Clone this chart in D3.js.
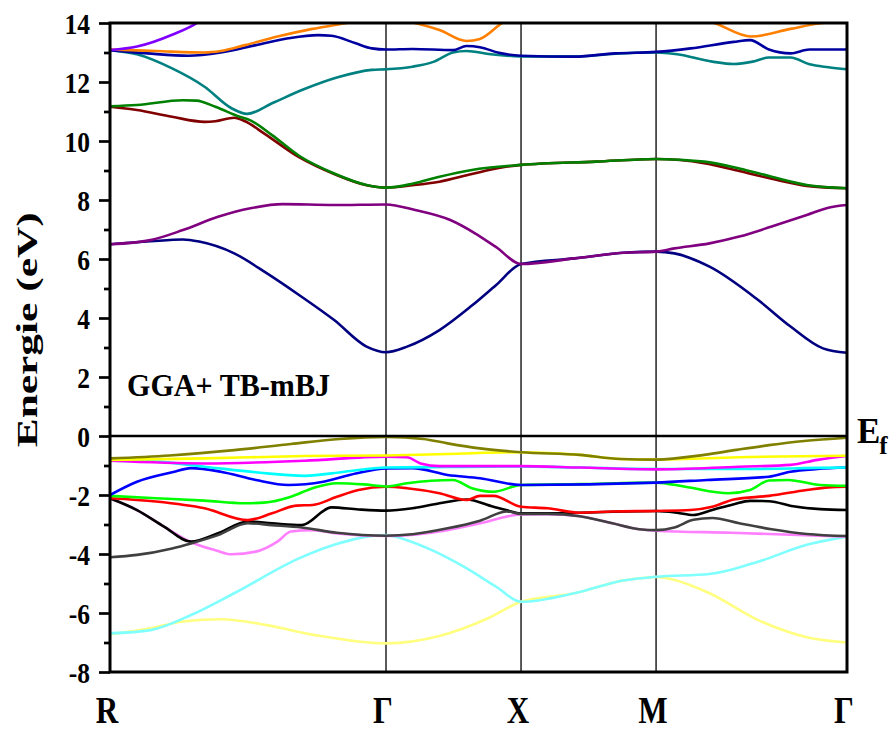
<!DOCTYPE html>
<html>
<head>
<meta charset="utf-8">
<script src="https://cdn.jsdelivr.net/npm/d3@7"></script>
<style>
  body { margin: 0; background: #fff; }
  text { font-family: "Liberation Serif", "Times New Roman", serif; font-weight: bold; }
</style>
</head>
<body>
<div id="band_chart"></div>
<script>
// high symmetry points (k in units of 2pi/a)
var kLabels = ["R", "\u0393", "X", "M", "\u0393"];
var kPos = [0, 1.022, 1.522, 2.022, 2.729];
var yTicks = [-8, -6, -4, -2, 0, 2, 4, 6, 8, 10, 12, 14];
var yMinor = [-7, -5, -3, -1, 1, 3, 5, 7, 9, 11, 13];

// conduction bands
var bandNavy = [[0,6.5],[0.15,6.6],[0.27,6.66],[0.33,6.59],[0.46,6.19],[0.58,5.52],[0.7,4.78],[0.83,3.93],[0.95,3.03],[1.022,2.84],[1.1,3.03],[1.22,3.59],[1.34,4.42],[1.43,5.12],[1.522,5.83],[1.72,6.02],[1.9,6.21],[2.022,6.25],[2.09,6.19],[2.22,5.74],[2.4,4.61],[2.52,3.71],[2.64,2.97],[2.729,2.82]];
var bandPurple = [[0,6.5],[0.15,6.64],[0.27,6.98],[0.4,7.43],[0.52,7.72],[0.64,7.86],[0.83,7.83],[1.022,7.85],[1.13,7.66],[1.26,7.32],[1.35,6.88],[1.43,6.4],[1.522,5.83],[1.72,6.02],[1.9,6.21],[2.022,6.25],[2.09,6.36],[2.22,6.53],[2.33,6.76],[2.45,7.1],[2.58,7.49],[2.66,7.74],[2.729,7.83]];
var bandMaroon = [[0,11.16],[0.1,11.05],[0.23,10.82],[0.35,10.65],[0.39,10.67],[0.46,10.79],[0.5,10.67],[0.57,10.26],[0.7,9.45],[0.83,8.88],[0.95,8.5],[1.022,8.42],[1.12,8.5],[1.22,8.62],[1.34,8.88],[1.45,9.1],[1.522,9.19],[1.8,9.3],[2.022,9.39],[2.2,9.25],[2.33,8.98],[2.45,8.72],[2.58,8.48],[2.729,8.4]];
var bandGreenDark = [[0,11.18],[0.1,11.22],[0.27,11.38],[0.32,11.37],[0.39,11.16],[0.48,10.82],[0.52,10.7],[0.6,10.2],[0.7,9.5],[0.83,8.9],[0.95,8.51],[1.022,8.42],[1.12,8.55],[1.22,8.79],[1.34,9.02],[1.522,9.19],[1.8,9.3],[2.022,9.39],[2.2,9.3],[2.33,9.07],[2.45,8.79],[2.58,8.51],[2.729,8.4]];
var bandTeal = [[0,13.08],[0.1,12.94],[0.23,12.46],[0.35,11.84],[0.45,11.11],[0.508,10.92],[0.6,11.28],[0.72,11.76],[0.84,12.15],[0.97,12.41],[1.022,12.43],[1.12,12.52],[1.2,12.69],[1.27,13.0],[1.32,13.05],[1.41,12.94],[1.522,12.87],[1.72,12.86],[1.87,12.96],[2.022,13.0],[2.1,12.94],[2.23,12.69],[2.31,12.61],[2.38,12.69],[2.44,12.83],[2.52,12.83],[2.59,12.6],[2.66,12.5],[2.729,12.43]];
var bandBlueDark = [[0,13.08],[0.14,12.97],[0.29,12.89],[0.41,13.0],[0.54,13.25],[0.66,13.48],[0.77,13.59],[0.82,13.57],[0.91,13.31],[0.97,13.14],[1.022,13.1],[1.12,13.12],[1.27,13.08],[1.32,13.22],[1.37,13.18],[1.44,12.99],[1.522,12.89],[1.72,12.86],[1.87,12.97],[2.022,13.02],[2.15,13.14],[2.31,13.36],[2.37,13.42],[2.44,13.1],[2.52,12.97],[2.59,13.1],[2.729,13.1]];
var bandOrange = [[0,13.1],[0.17,13.05],[0.35,13.0],[0.41,13.05],[0.5,13.25],[0.62,13.54],[0.75,13.8],[0.87,13.99],[0.95,14.15],[1.022,14.2],[1.11,14.04],[1.22,13.76],[1.32,13.39],[1.37,13.46],[1.455,14.02],[1.6,14.5],[2.0,14.5],[2.233,14.02],[2.374,13.54],[2.52,13.8],[2.63,13.99],[2.729,14.05]];
var bandViolet = [[0,13.08],[0.1,13.2],[0.23,13.6],[0.33,14.05],[0.4,14.6]];

// valence bands
var bandLightYellow = [[0,-6.72],[0.15,-6.52],[0.27,-6.29],[0.41,-6.21],[0.58,-6.41],[0.76,-6.75],[1.022,-7.03],[1.22,-6.78],[1.4,-6.18],[1.522,-5.62],[1.72,-5.33],[1.9,-4.9],[2.022,-4.78],[2.09,-4.88],[2.22,-5.33],[2.4,-6.24],[2.58,-6.82],[2.729,-7.0]];
var bandLightCyan = [[0,-6.69],[0.15,-6.58],[0.3,-6.07],[0.46,-5.33],[0.7,-4.15],[0.83,-3.69],[0.95,-3.41],[1.022,-3.36],[1.1,-3.53],[1.19,-3.86],[1.31,-4.43],[1.43,-5.11],[1.522,-5.62],[1.72,-5.33],[1.9,-4.9],[2.022,-4.77],[2.22,-4.68],[2.4,-4.26],[2.58,-3.69],[2.729,-3.41]];
var bandPink = [[0,-2.11],[0.1,-2.51],[0.2,-3.07],[0.3,-3.6],[0.39,-3.87],[0.45,-4.01],[0.54,-3.92],[0.62,-3.58],[0.67,-3.24],[0.75,-3.19],[0.84,-3.3],[1.022,-3.39],[1.25,-3.19],[1.37,-2.96],[1.522,-2.66],[1.62,-2.65],[1.74,-2.72],[1.86,-2.96],[1.96,-3.16],[2.022,-3.21],[2.3,-3.28],[2.729,-3.41]];
var bandBlack = [[0,-2.11],[0.1,-2.51],[0.2,-3.07],[0.3,-3.58],[0.4,-3.3],[0.51,-2.9],[0.6,-2.96],[0.71,-3.02],[0.82,-2.42],[0.92,-2.49],[1.022,-2.53],[1.12,-2.45],[1.22,-2.28],[1.32,-2.15],[1.42,-2.4],[1.47,-2.52],[1.522,-2.62],[1.65,-2.62],[1.74,-2.6],[2.022,-2.54],[2.1,-2.6],[2.16,-2.68],[2.23,-2.51],[2.31,-2.31],[2.37,-2.2],[2.44,-2.21],[2.53,-2.38],[2.63,-2.48],[2.729,-2.51]];
var bandGrey = [[0,-4.11],[0.1,-4.03],[0.23,-3.81],[0.3,-3.64],[0.4,-3.36],[0.51,-2.96],[0.6,-3.02],[0.71,-3.1],[0.84,-3.28],[1.022,-3.38],[1.12,-3.33],[1.25,-3.13],[1.37,-2.87],[1.47,-2.56],[1.522,-2.64],[1.62,-2.64],[1.74,-2.72],[1.86,-2.96],[1.96,-3.16],[2.022,-3.19],[2.09,-3.1],[2.16,-2.84],[2.23,-2.78],[2.33,-2.96],[2.45,-3.16],[2.58,-3.32],[2.729,-3.39]];
var bandRed = [[0,-2.11],[0.17,-2.22],[0.35,-2.45],[0.51,-2.85],[0.6,-2.62],[0.69,-2.36],[0.75,-2.34],[0.84,-2.06],[0.92,-1.83],[1.022,-1.72],[1.1,-1.77],[1.22,-1.94],[1.32,-2.17],[1.37,-2.03],[1.42,-2.03],[1.522,-2.4],[1.62,-2.45],[1.74,-2.6],[1.86,-2.56],[2.022,-2.54],[2.15,-2.51],[2.23,-2.4],[2.31,-2.15],[2.44,-2.03],[2.58,-1.83],[2.66,-1.74],[2.729,-1.72]];
var bandGreen = [[0,-2.03],[0.17,-2.11],[0.35,-2.19],[0.5,-2.28],[0.57,-2.26],[0.67,-2.06],[0.75,-1.77],[0.84,-1.6],[0.94,-1.64],[1.022,-1.71],[1.1,-1.6],[1.27,-1.49],[1.34,-1.77],[1.42,-1.89],[1.522,-1.66],[1.74,-1.63],[2.022,-1.58],[2.13,-1.72],[2.29,-1.94],[2.37,-1.83],[2.44,-1.51],[2.51,-1.49],[2.63,-1.66],[2.729,-1.69]];
var bandBlue = [[0,-2.0],[0.1,-1.55],[0.23,-1.23],[0.3,-1.09],[0.41,-1.21],[0.54,-1.49],[0.66,-1.66],[0.79,-1.55],[0.91,-1.27],[1.022,-1.1],[1.12,-1.09],[1.25,-1.32],[1.37,-1.43],[1.522,-1.66],[2.022,-1.58],[2.21,-1.49],[2.44,-1.38],[2.52,-1.21],[2.62,-1.12],[2.729,-1.07]];
var bandCyan = [[0,-0.84],[0.17,-0.87],[0.35,-1.04],[0.54,-1.23],[0.72,-1.35],[0.87,-1.21],[1.022,-1.07],[1.25,-1.05],[1.522,-1.03],[1.74,-1.07],[2.022,-1.12],[2.33,-1.12],[2.52,-1.1],[2.62,-1.08],[2.729,-1.07]];
var bandMagenta = [[0,-0.84],[0.35,-0.93],[0.72,-0.84],[1.022,-0.7],[1.1,-0.72],[1.15,-0.93],[1.22,-1.02],[1.522,-1.02],[1.74,-1.07],[2.022,-1.13],[2.33,-1.04],[2.52,-0.98],[2.62,-0.81],[2.729,-0.68]];
var bandYellow = [[0,-0.81],[0.35,-0.76],[0.72,-0.68],[1.022,-0.66],[1.25,-0.61],[1.522,-0.55],[1.74,-0.64],[1.89,-0.78],[2.022,-0.8],[2.16,-0.77],[2.33,-0.72],[2.729,-0.67]];
var bandOlive = [[0,-0.76],[0.22,-0.66],[0.46,-0.48],[0.67,-0.27],[0.85,-0.1],[1.022,-0.03],[1.16,-0.1],[1.25,-0.25],[1.37,-0.42],[1.522,-0.55],[1.74,-0.64],[1.89,-0.78],[2.022,-0.8],[2.2,-0.64],[2.32,-0.47],[2.44,-0.31],[2.57,-0.17],[2.729,-0.06]];

// drawing order, bottom first
var bands = [bandNavy, bandPurple, bandMaroon, bandGreenDark, bandTeal, bandBlueDark, bandOrange, bandViolet,
  bandLightYellow, bandLightCyan, bandPink, bandBlack, bandGrey, bandRed, bandGreen, bandBlue, bandCyan, bandMagenta, bandYellow, bandOlive];
var colors = ["#000080", "#800080", "#800000", "#008000", "#008080", "#0000A0", "#FF8000", "#8000FF",
  "#FFFF80", "#80FFFF", "#FF80FF", "#000000", "#404040", "#FF0000", "#00FF00", "#0000FF", "#00FFFF", "#FF00FF", "#FFFF00", "#808000"];

var margin = { top: 23, right: 43, bottom: 63, left: 110 },
  width = 890 - margin.left - margin.right,
  height = 735 - margin.top - margin.bottom;

var svg = d3.select("#band_chart")
  .append("svg")
  .attr("width", 890)
  .attr("height", 735)
  .append("g")
  .attr("transform", "translate(" + margin.left + "," + margin.top + ")");

var x = d3.scaleLinear().domain([0, kPos[kPos.length - 1]]).range([0, width]);
var y = d3.scaleLinear().domain([-8, 14]).range([height, 0]);

svg.append("clipPath").attr("id", "clip")
  .append("rect").attr("width", width).attr("height", height);

// vertical lines at the high symmetry points
svg.selectAll(".kline")
  .data(kPos.slice(1, -1))
  .enter().append("line")
  .attr("x1", d => x(d)).attr("x2", d => x(d))
  .attr("y1", 0).attr("y2", height)
  .attr("stroke", "#000").attr("stroke-width", 1.3);

var line = d3.line()
  .x(d => x(d[0]))
  .y(d => y(d[1]))
  .curve(d3.curveMonotoneX);

svg.append("g").attr("clip-path", "url(#clip)")
  .selectAll("path")
  .data(bands)
  .enter().append("path")
  .attr("fill", "none")
  .attr("stroke", (d, i) => colors[i])
  .attr("stroke-width", 2.6)
  .attr("stroke-linejoin", "round")
  .attr("d", line);

// Fermi level
svg.append("line")
  .attr("x1", 0).attr("x2", width)
  .attr("y1", y(0)).attr("y2", y(0))
  .attr("stroke", "#000").attr("stroke-width", 2.6);

// y axis
var yAxis = g => g
  .call(d3.axisLeft(y).tickValues(yTicks).tickSize(11).tickPadding(0).tickFormat(d => String(d)))
  .call(g => g.select(".domain").remove())
  .call(g => g.selectAll(".tick line").attr("stroke-width", 2.7))
  .call(g => g.selectAll(".tick text")
    .attr("x", 0).attr("dy", "0.34em")
    .attr("transform", "translate(-20,0) scale(0.85,1)")
    .attr("font-size", 30)
    .attr("font-family", "Liberation Serif, Times New Roman, serif")
    .attr("font-weight", "bold")
    .attr("fill", "#000"));

svg.append("g").call(yAxis);

svg.append("g")
  .call(d3.axisLeft(y).tickValues(yMinor).tickSize(6).tickFormat(""))
  .call(g => g.select(".domain").remove())
  .call(g => g.selectAll(".tick line").attr("stroke-width", 2.7));

// frame
svg.append("rect")
  .attr("width", width).attr("height", height)
  .attr("fill", "none").attr("stroke", "#000").attr("stroke-width", 3);

// k point labels
svg.selectAll(".klabel")
  .data(kLabels)
  .enter().append("text")
  .attr("transform", (d, i) => "translate(" + (x(kPos[i]) - 3) + "," + (height + 51) + ") scale(0.82,1)")
  .attr("text-anchor", "middle")
  .attr("font-size", 38)
  .text(d => d);

// axis title
svg.append("text")
  .attr("transform", "translate(-73," + y(3.6) + ") rotate(-90)")
  .attr("text-anchor", "middle")
  .attr("font-size", 30)
  .attr("textLength", 235)
  .attr("lengthAdjust", "spacingAndGlyphs")
  .text("Energie (eV)");

svg.append("text")
  .attr("x", 17).attr("y", y(1.35))
  .attr("font-size", 31)
  .attr("textLength", 203)
  .attr("lengthAdjust", "spacingAndGlyphs")
  .text("GGA+ TB-mBJ");

var ef = svg.append("text")
  .attr("x", width + 10).attr("y", y(0) + 7)
  .attr("font-size", 35);
ef.append("tspan").text("E");
ef.append("tspan").attr("font-size", 25).attr("dy", 11).attr("dx", -1).text("f");
</script>
</body>
</html>
